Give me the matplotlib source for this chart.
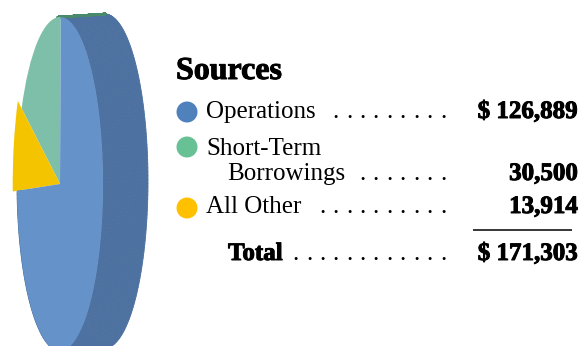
import numpy as np
import matplotlib
matplotlib.use("Agg")
import matplotlib.pyplot as plt
import matplotlib.patheffects as pe
from matplotlib.patches import Circle
from matplotlib.collections import PolyCollection

# ---- data ----
title = "Sources"
categories = ["Operations", "Short-Term Borrowings", "All Other"]
values = [126889, 30500, 13914]
total_label = "Total"
front_colors = ["#6592c8", "#7dbfa9", "#f5c400"]
side_colors = ["#4d71a0", "#4a8a6c", "#c49c00"]
dot_colors = ["#4f81bd", "#68c195", "#ffc000"]
pie_order = [1, 2, 0]  # green first from top, then yellow, then blue

SERIF = ["Liberation Serif", "DejaVu Serif"]
HEAVY = [pe.withStroke(linewidth=0.7, foreground="black")]

W, H = 582, 346
fig = plt.figure(figsize=(W / 100, H / 100), dpi=100)

# ---- pie (elliptical, extruded to the right) ----
left_px = 13.0
pax = fig.add_axes([left_px / W, 0, 1 - left_px / W, 1])
rx, ry = 43.0, 167.0
cx, cy = 60.0, 184.0  # pixel centre (from top)
pie_vals = [values[i] for i in pie_order]
wedges, _ = pax.pie(pie_vals, startangle=89, counterclock=True,
                    colors=[front_colors[i] for i in pie_order],
                    radius=1, center=(0, 0),
                    wedgeprops=dict(linewidth=0))
for w, idx in zip(wedges, pie_order):
    w.set_zorder(3)
    if idx == 2:
        w.set_radius(1.1)

dx, dy = 45.0 / rx, 3.0 / ry


def sweep(theta1, theta2, color, lw=0.6, z=1):
    th = np.radians(np.linspace(theta1, theta2, 200))
    xs, ys = np.cos(th), np.sin(th)
    quads = [[(xs[k], ys[k]), (xs[k + 1], ys[k + 1]),
              (xs[k + 1] + dx, ys[k + 1] + dy), (xs[k] + dx, ys[k] + dy)]
             for k in range(len(th) - 1)]
    pax.add_collection(PolyCollection(quads, facecolors=color, edgecolors=color,
                                      linewidths=lw, zorder=z))


for w, idx in zip(wedges, pie_order):
    if idx == 0:
        sweep(w.theta1, w.theta2, side_colors[0])
for w, idx in zip(wedges, pie_order):
    if idx == 1:
        sweep(w.theta1, w.theta1 + 4, side_colors[1], lw=1.6, z=2)

pax.set_aspect("auto")
pax.set_xlim(-(cx - left_px) / rx, (W - cx) / rx)
pax.set_ylim(-(H - cy) / ry, cy / ry)
pax.axis("off")

# ---- text table (pixel layout) ----
tax = fig.add_axes([0, 0, 1, 1], zorder=5)
tax.set_xlim(0, W)
tax.set_ylim(H, 0)
tax.axis("off")
tax.patch.set_alpha(0)

tax.text(176, 79, title, fontsize=23, fontweight="bold", family=SERIF,
         ha="left", va="baseline", color="black", path_effects=HEAVY)

fs = 18
dot_x_end = 443
dot_step = 13.4


def leader(n, y):
    for k in range(n):
        tax.text(dot_x_end - k * dot_step, y, ".", fontsize=fs, family=SERIF,
                 ha="center", va="baseline", color="black")


def money(v, dollar):
    s = f"{v:,}"
    return ("$ " + s) if dollar else s


def amount(y, text):
    tax.text(578, y, text, fontsize=fs, fontweight="bold", family=SERIF,
             ha="right", va="baseline", path_effects=HEAVY)


# Operations
tax.add_patch(Circle((187, 112), 10.5, color=dot_colors[0], lw=0))
tax.text(206, 118, categories[0], fontsize=fs, family=SERIF, va="baseline")
leader(9, 118)
amount(118, money(values[0], True))

# Short-Term Borrowings
first, second = categories[1].split(" ", 1)
tax.add_patch(Circle((187, 147), 10.5, color=dot_colors[1], lw=0))
tax.text(206, 155, first, fontsize=fs, family=SERIF, va="baseline")
tax.text(227, 180, second, fontsize=fs, family=SERIF, va="baseline")
leader(7, 180)
amount(180, money(values[1], False))

# All Other
tax.add_patch(Circle((187, 208), 10.5, color=dot_colors[2], lw=0))
tax.text(206, 213, categories[2], fontsize=fs, family=SERIF, va="baseline")
leader(10, 213)
amount(213, money(values[2], False))

# rule
tax.plot([473, 572], [230, 230], color="black", lw=1.1, solid_capstyle="butt")

# Total
tax.text(228, 260, total_label, fontsize=fs, fontweight="bold", family=SERIF,
         va="baseline", path_effects=HEAVY)
leader(12, 260)
amount(260, money(sum(values), True))

fig.savefig("out.png", dpi=100)
